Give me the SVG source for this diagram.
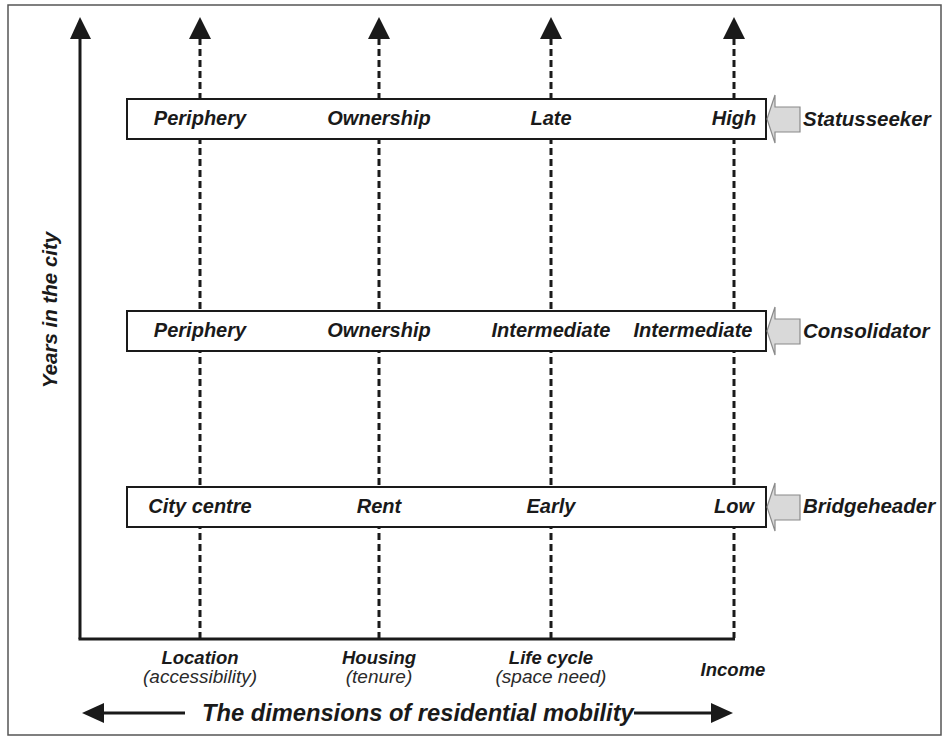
<svg xmlns="http://www.w3.org/2000/svg" width="947" height="740" viewBox="0 0 947 740">
<style>
.frame{fill:#fff;stroke:#555;stroke-width:1.5}
.axis{stroke:#1a1a1a;stroke-width:3;fill:none}
.dash{stroke:#1a1a1a;stroke-width:3;stroke-dasharray:7,4;fill:none}
.head{fill:#1a1a1a}
.box{fill:#fff;stroke:#1a1a1a;stroke-width:2}
.garrow{fill:#d9d9d9;stroke:#8a8a8a;stroke-width:1.2}
.bt{font-family:"Liberation Sans",Arial,sans-serif;font-weight:bold;font-style:italic;font-size:20px;fill:#1a1a1a;text-anchor:middle}
.lab{font-family:"Liberation Sans",Arial,sans-serif;font-weight:bold;font-style:italic;font-size:20.5px;fill:#1a1a1a}
.dim{font-family:"Liberation Sans",Arial,sans-serif;font-weight:bold;font-style:italic;font-size:18.5px;fill:#1a1a1a;text-anchor:middle}
.sub{font-family:"Liberation Sans",Arial,sans-serif;font-style:italic;font-size:19px;fill:#2a2a2a;text-anchor:middle}
.title{font-family:"Liberation Sans",Arial,sans-serif;font-weight:bold;font-style:italic;font-size:23.7px;fill:#1a1a1a}
</style>
<rect class="frame" x="8" y="5" width="933" height="730"/>
<g id="connectors">
  <line class="axis" x1="80" y1="36" x2="80" y2="639"/>
  <polygon class="head" points="80,17 70,39 91,39"/>
  <line class="axis" x1="78.5" y1="639" x2="735" y2="639"/>
  <line class="dash" x1="200" y1="38" x2="200" y2="638"/>
  <polygon class="head" points="200,17 189,39 211,39"/>
  <line class="dash" x1="379" y1="38" x2="379" y2="638"/>
  <polygon class="head" points="379,17 368,39 390,39"/>
  <line class="dash" x1="551" y1="38" x2="551" y2="638"/>
  <polygon class="head" points="551,17 540,39 562,39"/>
  <line class="dash" x1="734" y1="38" x2="734" y2="638"/>
  <polygon class="head" points="734,17 723,39 745,39"/>
  <line class="axis" x1="100" y1="713" x2="185" y2="713"/>
  <polygon class="head" points="82,713 104,703 104,723"/>
  <line class="axis" x1="634" y1="713" x2="712" y2="713"/>
  <polygon class="head" points="733,713 711,703 711,723"/>
</g>
<g id="statusseeker">
  <rect class="box" x="127" y="99" width="639" height="40"/>
  <text class="bt" x="200" y="125">Periphery</text>
  <text class="bt" x="379" y="125">Ownership</text>
  <text class="bt" x="551" y="125">Late</text>
  <text class="bt" x="734" y="125">High</text>
  <polygon class="garrow" points="767,119 775,95 775,107 800,107 800,132 775,132 775,143"/>
  <text class="lab" x="803" y="126">Statusseeker</text>
</g>
<g id="consolidator">
  <rect class="box" x="127" y="311" width="639" height="40"/>
  <text class="bt" x="200" y="337">Periphery</text>
  <text class="bt" x="379" y="337">Ownership</text>
  <text class="bt" x="551" y="337">Intermediate</text>
  <text class="bt" x="693" y="337">Intermediate</text>
  <polygon class="garrow" points="767,331 775,307 775,319 800,319 800,344 775,344 775,355"/>
  <text class="lab" x="803" y="338">Consolidator</text>
</g>
<g id="bridgeheader">
  <rect class="box" x="127" y="487" width="639" height="40"/>
  <text class="bt" x="200" y="513">City centre</text>
  <text class="bt" x="379" y="513">Rent</text>
  <text class="bt" x="551" y="513">Early</text>
  <text class="bt" x="734" y="513">Low</text>
  <polygon class="garrow" points="767,507 775,483 775,495 800,495 800,520 775,520 775,531"/>
  <text class="lab" x="803" y="513">Bridgeheader</text>
</g>
<g id="y-label">
  <text class="lab" text-anchor="middle" transform="translate(57,310) rotate(-90)">Years in the city</text>
</g>
<g id="dim-location">
  <text class="dim" x="200" y="664">Location</text>
  <text class="sub" x="200" y="683">(accessibility)</text>
</g>
<g id="dim-housing">
  <text class="dim" x="379" y="664">Housing</text>
  <text class="sub" x="379" y="683">(tenure)</text>
</g>
<g id="dim-lifecycle">
  <text class="dim" x="551" y="664">Life cycle</text>
  <text class="sub" x="551" y="683">(space need)</text>
</g>
<g id="dim-income">
  <text class="dim" x="733" y="676">Income</text>
</g>
<g id="title">
  <text class="title" x="202" y="721">The dimensions of residential mobility</text>
</g>
</svg>
